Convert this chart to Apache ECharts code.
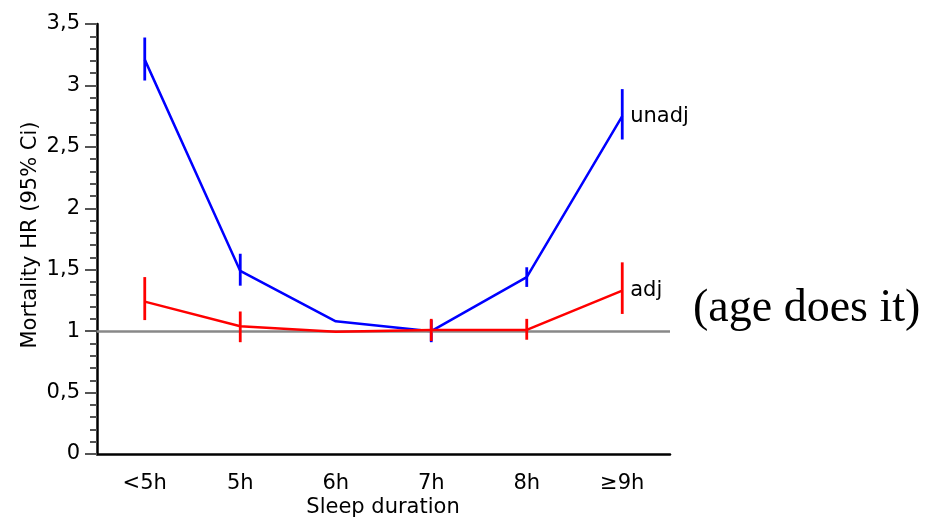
<!DOCTYPE html>
<html>
<head>
<meta charset="utf-8">
<script src="https://cdn.jsdelivr.net/npm/echarts@6/dist/echarts.min.js"></script>
<style>html,body{margin:0;padding:0;background:#fff;}#c{width:936px;height:520px;}</style>
</head>
<body>
<div id="c"></div>
<script>
const categories = ['<5h', '5h', '6h', '7h', '8h', '≥9h'];
const unadj = [3.21, 1.49, 1.08, 1.00, 1.44, 2.75];
const unadjLow = [3.04, 1.37, null, 0.91, 1.36, 2.56];
const unadjHigh = [3.39, 1.63, null, 1.09, 1.52, 2.97];
const adj = [1.24, 1.04, 0.995, 1.01, 1.01, 1.33];
const adjLow = [1.09, 0.91, null, 0.92, 0.93, 1.14];
const adjHigh = [1.44, 1.16, null, 1.10, 1.10, 1.56];
const refValue = 1;
const yTicks = [0, 0.5, 1, 1.5, 2, 2.5, 3, 3.5];

const FONT = 'DejaVu Sans';
const FS = 21;
const BLUE = '#0000ff', RED = '#ff0000';

function errData(low, high) {
  const out = [];
  low.forEach((l, i) => { if (l != null && high[i] != null) out.push([i, l, high[i]]); });
  return out;
}
function errSeries(low, high, color, z) {
  return {
    type: 'custom', z: z, silent: true,
    data: errData(low, high),
    encode: { x: 0, y: [1, 2] },
    renderItem: function (params, api) {
      const a = api.coord([api.value(0), api.value(1)]);
      const b = api.coord([api.value(0), api.value(2)]);
      return { type: 'line', shape: { x1: a[0], y1: a[1], x2: b[0], y2: b[1] },
               style: { stroke: color, lineWidth: 2.8 } };
    }
  };
}

const chart = echarts.init(document.getElementById('c'), null, { renderer: 'canvas' });
chart.setOption({
  animation: false,
  backgroundColor: '#fff',
  grid: { left: 97, right: 266, top: 24, bottom: 66, containLabel: false },
  xAxis: {
    type: 'category', data: categories, boundaryGap: true,
    axisLine: { lineStyle: { color: '#000', width: 2.5 } },
    axisTick: { alignWithLabel: true, length: 11, lineStyle: { color: '#777', width: 2 } },
    axisLabel: { fontFamily: FONT, fontSize: FS, color: '#000', margin: 19 }
  },
  yAxis: {
    type: 'value', min: yTicks[0], max: yTicks[yTicks.length - 1], interval: 0.5,
    axisLine: { show: true, lineStyle: { color: '#000', width: 2.5 } },
    axisTick: { show: true, length: 12, lineStyle: { color: '#555', width: 2 } },
    minorTick: { show: true, splitNumber: 5, length: 7, lineStyle: { color: '#555', width: 2 } },
    splitLine: { show: false },
    axisLabel: { fontFamily: FONT, fontSize: FS, color: '#000', margin: 17,
                 formatter: v => String(v).replace('.', ',') }
  },
  graphic: [
    { type: 'text', x: 31, y: 235, rotation: Math.PI / 2,
      style: { text: 'Mortality HR (95% Ci)', font: FS + 'px "' + FONT + '"', fill: '#000',
               align: 'center', verticalAlign: 'middle' } },
    { type: 'text', x: 383, y: 508,
      style: { text: 'Sleep duration', font: FS + 'px "' + FONT + '"', fill: '#000',
               align: 'center', verticalAlign: 'middle' } },
    { type: 'text', x: 693, y: 309,
      style: { text: '(age does it)', font: '46px "Liberation Serif"', fill: '#000',
               align: 'left', verticalAlign: 'middle' } }
  ],
  series: [
    { type: 'line', data: [], z: 1, silent: true,
      markLine: { silent: true, symbol: 'none', label: { show: false },
                  lineStyle: { color: '#888', width: 2.5, type: 'solid' },
                  data: [{ yAxis: refValue }] } },
    errSeries(unadjLow, unadjHigh, BLUE, 3),
    { type: 'line', data: unadj, z: 4, symbol: 'none',
      lineStyle: { color: BLUE, width: 2.5 },
      endLabel: { show: true, formatter: 'unadj', fontFamily: FONT, fontSize: FS, color: '#000', distance: 8 } },
    errSeries(adjLow, adjHigh, RED, 5),
    { type: 'line', data: adj, z: 6, symbol: 'none',
      lineStyle: { color: RED, width: 2.5 },
      endLabel: { show: true, formatter: 'adj', fontFamily: FONT, fontSize: FS, color: '#000', distance: 8 } }
  ]
});
</script>
</body>
</html>
